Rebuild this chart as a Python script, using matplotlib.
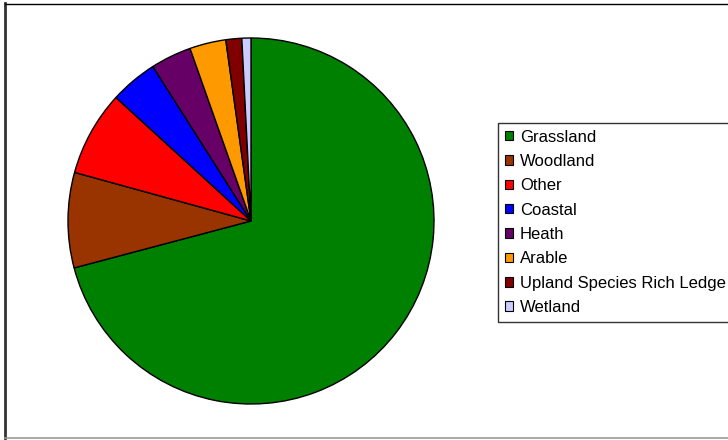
import matplotlib

matplotlib.use("Agg")
import matplotlib.pyplot as plt
from matplotlib.lines import Line2D

plt.rcParams["font.family"] = ["Liberation Sans", "DejaVu Sans"]

# --- Data ---------------------------------------------------------------------
habitats = [
    "Grassland",
    "Woodland",
    "Other",
    "Coastal",
    "Heath",
    "Arable",
    "Upland Species Rich Ledge",
    "Wetland",
]
shares = [70.8, 8.4, 7.5, 4.2, 3.6, 3.2, 1.4, 0.8]
colours = ["#008000", "#993300", "#ff0000", "#0000ff", "#660066", "#ff9900", "#800000", "#ccccff"]

W, H = 728, 440
fig = plt.figure(figsize=(W / 100, H / 100), dpi=100)
ax = fig.add_axes([0, 0, 1, 1])

wedges, _ = ax.pie(
    shares,
    colors=colours,
    startangle=90,
    counterclock=False,
    center=(251, H - 221),
    radius=183,
    wedgeprops=dict(edgecolor="black", linewidth=1.0),
)
ax.set_xlim(0, W)
ax.set_ylim(0, H)
ax.set_aspect("equal")
ax.axis("off")

# outer chart-area border (right side runs off the canvas)
ax.add_line(Line2D([4.5, 4.5], [H - 3, H - 438], color="#333333", lw=2))
ax.add_line(Line2D([4.5, W + 5], [H - 3.5, H - 3.5], color="black", lw=1))
ax.add_line(Line2D([4.5, W + 5], [H - 438.5, H - 438.5], color="#999999", lw=1.2))

leg = ax.legend(
    wedges,
    habitats,
    loc="upper left",
    bbox_to_anchor=(498 / W, 1 - 123 / H),
    borderaxespad=0,
    fontsize=12,
    frameon=True,
    fancybox=False,
    handlelength=0.5,
    handleheight=0.5,
    handletextpad=0.42,
    labelspacing=0.56,
    borderpad=0.4,
)
leg.get_frame().set_edgecolor("black")
leg.get_frame().set_linewidth(1.0)
for h in leg.legend_handles:
    h.set_linewidth(0.8)

fig.savefig("out.png", dpi=100)
